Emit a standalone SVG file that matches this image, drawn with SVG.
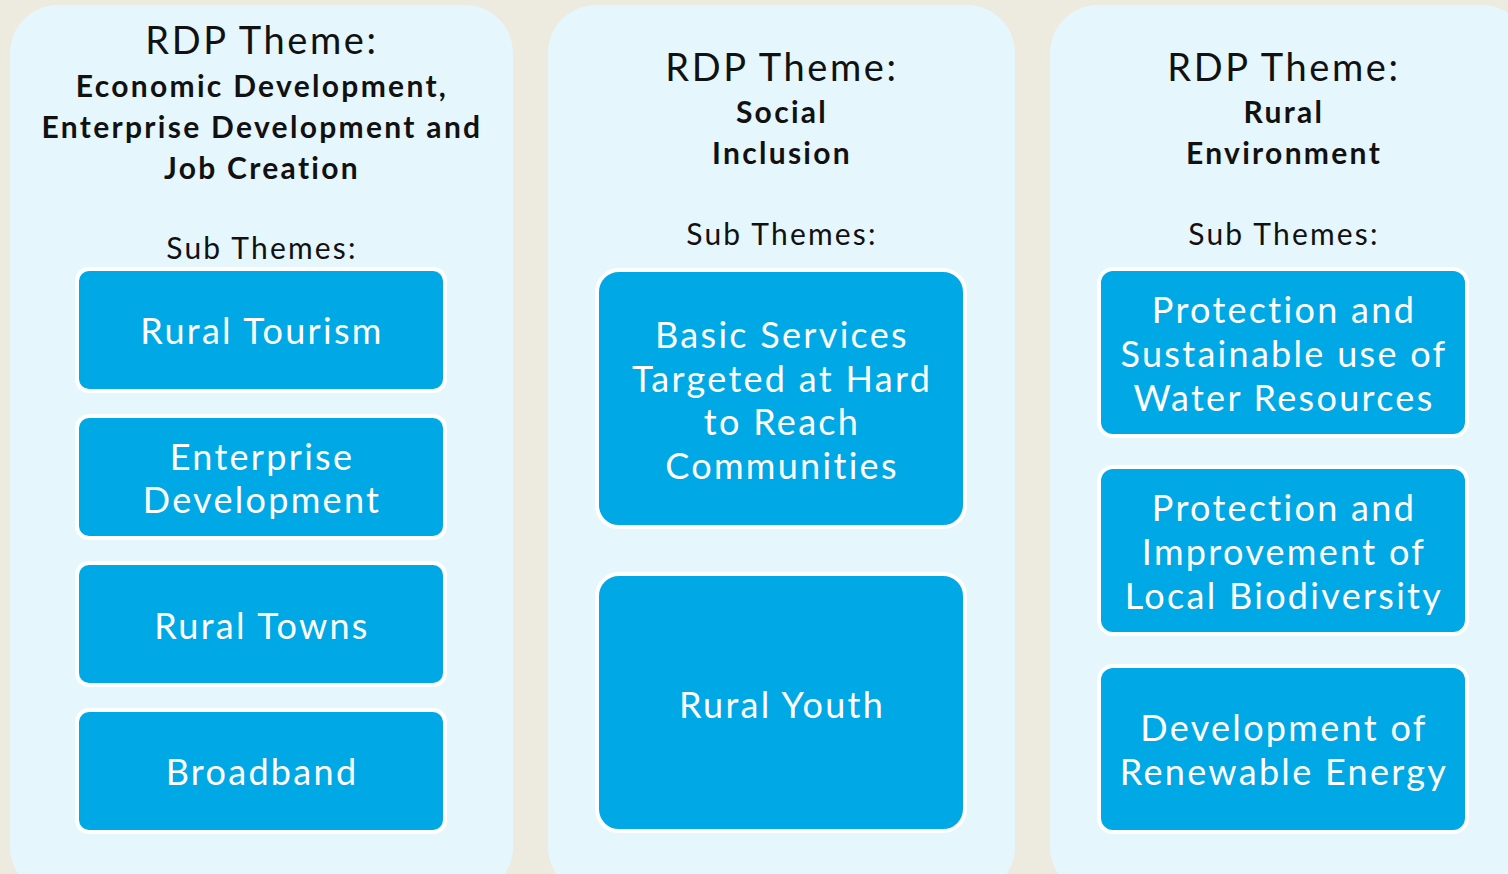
<svg xmlns="http://www.w3.org/2000/svg" width="1508" height="874" viewBox="0 0 1508 874">
<style>
.panel{fill:#E6F6FD}
.box{fill:#00A9E6;stroke:#FFFFFF;stroke-width:4}
.t{font-family:Lato,"Open Sans",sans-serif;text-anchor:middle;fill:#111}
.h{font-size:38px;letter-spacing:2.6px}
.b{font-size:30px;font-weight:bold;letter-spacing:2.3px}
.s{font-size:30px;letter-spacing:2.2px}
.w{font-family:Lato,"Open Sans",sans-serif;text-anchor:middle;fill:#FFFFFF;font-size:36px;letter-spacing:2.3px}
</style>
<rect width="1508" height="874" fill="#EDEAE0"/>
<g id="panel-economic">
<rect class="panel" x="10" y="5" width="503" height="890" rx="48"/>
<text class="t h" x="262" y="54">RDP Theme:</text>
<text class="t b" x="262" y="97">Economic Development,</text>
<text class="t b" x="262" y="138">Enterprise Development and</text>
<text class="t b" x="262" y="179">Job Creation</text>
<text class="t s" x="262" y="259">Sub Themes:</text>
</g>
<g id="panel-social">
<rect class="panel" x="548" y="5" width="467" height="890" rx="48"/>
<text class="t h" x="782" y="81">RDP Theme:</text>
<text class="t b" x="782" y="123">Social</text>
<text class="t b" x="782" y="164">Inclusion</text>
<text class="t s" x="782" y="245">Sub Themes:</text>
</g>
<g id="panel-environment">
<rect class="panel" x="1050" y="5" width="480" height="890" rx="48"/>
<text class="t h" x="1284" y="81">RDP Theme:</text>
<text class="t b" x="1284" y="123">Rural</text>
<text class="t b" x="1284" y="164">Environment</text>
<text class="t s" x="1284" y="245">Sub Themes:</text>
</g>
<g id="node-rural-tourism">
<rect class="box" x="77" y="269" width="368" height="122" rx="12"/>
<text class="w" x="262" y="344">Rural Tourism</text>
</g>
<g id="node-enterprise-development">
<rect class="box" x="77" y="416" width="368" height="122" rx="12"/>
<text class="w" x="262" y="470">Enterprise</text>
<text class="w" x="262" y="513">Development</text>
</g>
<g id="node-rural-towns">
<rect class="box" x="77" y="563" width="368" height="122" rx="12"/>
<text class="w" x="262" y="639">Rural Towns</text>
</g>
<g id="node-broadband">
<rect class="box" x="77" y="710" width="368" height="122" rx="12"/>
<text class="w" x="262" y="785">Broadband</text>
</g>
<g id="node-basic-services">
<rect class="box" x="597" y="270" width="368" height="257" rx="22"/>
<text class="w" x="782" y="348">Basic Services</text>
<text class="w" x="782" y="392">Targeted at Hard</text>
<text class="w" x="782" y="435">to Reach</text>
<text class="w" x="782" y="479">Communities</text>
</g>
<g id="node-rural-youth">
<rect class="box" x="597" y="574" width="368" height="257" rx="22"/>
<text class="w" x="782" y="718">Rural Youth</text>
</g>
<g id="node-water">
<rect class="box" x="1099" y="269" width="368" height="167" rx="14"/>
<text class="w" x="1284" y="323">Protection and</text>
<text class="w" x="1284" y="367">Sustainable use of</text>
<text class="w" x="1284" y="411">Water Resources</text>
</g>
<g id="node-biodiversity">
<rect class="box" x="1099" y="467" width="368" height="167" rx="14"/>
<text class="w" x="1284" y="521">Protection and</text>
<text class="w" x="1284" y="565">Improvement of</text>
<text class="w" x="1284" y="609">Local Biodiversity</text>
</g>
<g id="node-renewable">
<rect class="box" x="1099" y="666" width="368" height="166" rx="14"/>
<text class="w" x="1284" y="741">Development of</text>
<text class="w" x="1284" y="785">Renewable Energy</text>
</g>
<g id="connectors"></g>
</svg>
